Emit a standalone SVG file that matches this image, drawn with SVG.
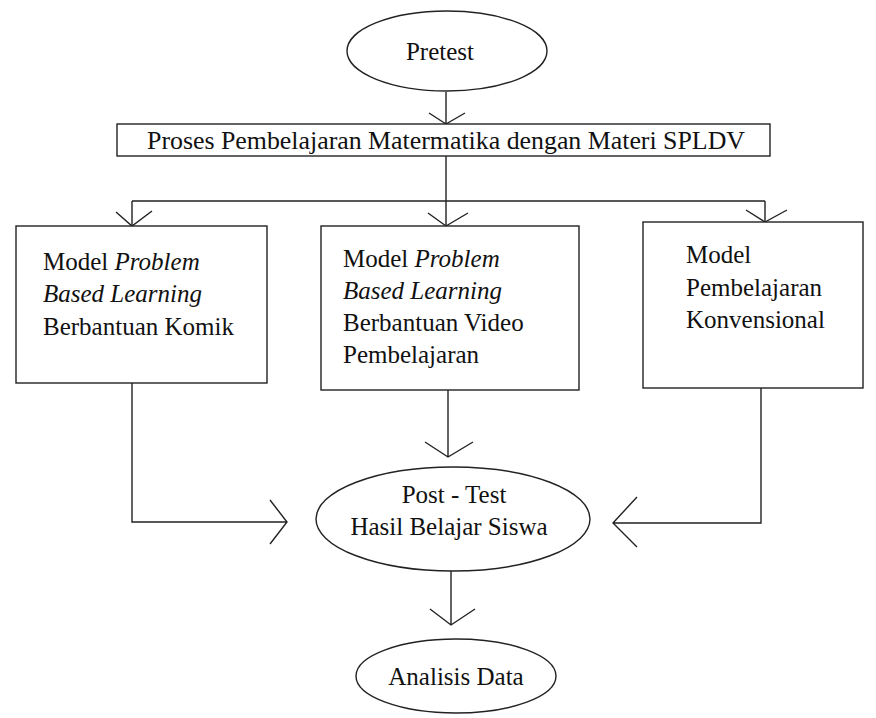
<svg xmlns="http://www.w3.org/2000/svg" width="876" height="718" viewBox="0 0 876 718">
<style>
.s{fill:#fff;stroke:#222;stroke-width:1.4}
.c{fill:none;stroke:#222;stroke-width:1.4}
text{font-family:"Liberation Serif","Times New Roman",serif;font-size:25px;fill:#111}
.m{text-anchor:middle}
.i{font-style:italic}
</style>
<rect width="876" height="718" fill="#fff"/>
<g id="connectors">
<path class="c" d="M446 92V124M429 113L446 124L465 113"/>
<path class="c" d="M446 156V226M132 201H765M132 201V226M446 201V226M765 201V222"/>
<path class="c" d="M116 212L132 226L152 211M428 213L446 226L468 213M746 210L765 222L787 210"/>
<path class="c" d="M132 383V522H287M270 500L287 522L270 544"/>
<path class="c" d="M448 390V457M425 442L448 457L473 442"/>
<path class="c" d="M761 388V523H613M637 497L613 523L637 547"/>
<path class="c" d="M451 571V625M430 609L451 625L475 609"/>
</g>
<g id="pretest">
<ellipse class="s" cx="447" cy="51" rx="100" ry="40"/>
<text class="m" x="440" y="60">Pretest</text>
</g>
<g id="proses">
<rect class="s" x="117" y="124" width="653" height="32"/>
<text x="147" y="149" textLength="598" lengthAdjust="spacingAndGlyphs">Proses Pembelajaran Matermatika dengan Materi SPLDV</text>
</g>
<g id="pbl-komik">
<rect class="s" x="16" y="226" width="251" height="157"/>
<text x="43" y="270">Model <tspan class="i">Problem</tspan></text>
<text x="43" y="302" class="i">Based Learning</text>
<text x="43" y="335">Berbantuan Komik</text>
</g>
<g id="pbl-video">
<rect class="s" x="321" y="226" width="258" height="164"/>
<text x="343" y="267">Model <tspan class="i">Problem</tspan></text>
<text x="343" y="299" class="i">Based Learning</text>
<text x="343" y="331">Berbantuan Video</text>
<text x="343" y="363">Pembelajaran</text>
</g>
<g id="konvensional">
<rect class="s" x="643" y="222" width="220" height="166"/>
<text x="686" y="263">Model</text>
<text x="686" y="296">Pembelajaran</text>
<text x="686" y="328">Konvensional</text>
</g>
<g id="posttest">
<ellipse class="s" cx="453" cy="519" rx="137" ry="52"/>
<text class="m" x="454" y="503">Post - Test</text>
<text class="m" x="449" y="535">Hasil Belajar Siswa</text>
</g>
<g id="analisis">
<ellipse class="s" cx="456" cy="676" rx="100" ry="37"/>
<text class="m" x="456" y="685">Analisis Data</text>
</g>
</svg>
